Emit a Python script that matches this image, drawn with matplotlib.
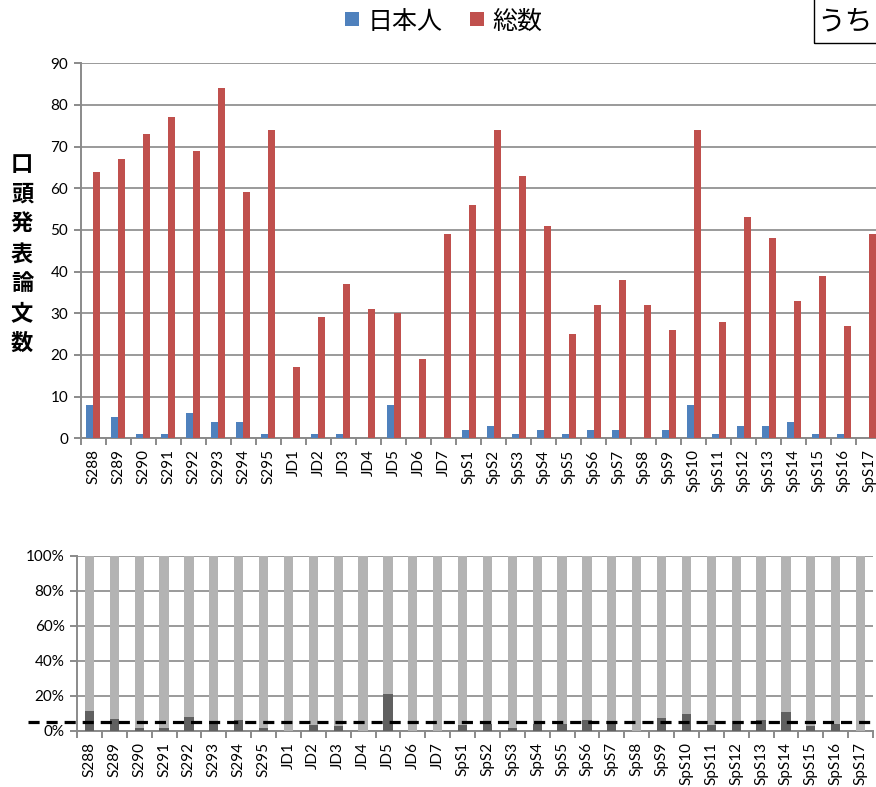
import matplotlib
matplotlib.use("Agg")
import matplotlib.pyplot as plt
import numpy as np
from matplotlib.patches import Rectangle

plt.rcParams['font.family'] = ['Lato', 'Noto Sans CJK JP', 'DejaVu Sans']

categories = ["S288", "S289", "S290", "S291", "S292", "S293", "S294", "S295",
              "JD1", "JD2", "JD3", "JD4", "JD5", "JD6", "JD7",
              "SpS1", "SpS2", "SpS3", "SpS4", "SpS5", "SpS6", "SpS7", "SpS8", "SpS9",
              "SpS10", "SpS11", "SpS12", "SpS13", "SpS14", "SpS15", "SpS16", "SpS17"]
japanese = [8, 5, 1, 1, 6, 4, 4, 1,
            0, 1, 1, 0, 8, 0, 0,
            2, 3, 1, 2, 1, 2, 2, 0, 2,
            8, 1, 3, 3, 4, 1, 1, 0]
total = [64, 67, 73, 77, 69, 84, 59, 74,
         17, 29, 37, 31, 30, 19, 49,
         56, 74, 63, 51, 25, 32, 38, 32, 26,
         74, 28, 53, 48, 33, 39, 27, 49]
legend_labels = ["日本人", "総数"]
ylabel = "口頭発表論文数"
box_text = "うち"

W, H = 876, 787
fig = plt.figure(figsize=(W / 100, H / 100), dpi=100)

BLUE = "#4F81BD"
RED = "#C0504D"
GRID = "#9A9A9A"
LIGHT = "#B3B3B3"
DARK = "#606060"

jp = np.array(japanese, dtype=float)
tot = np.array(total, dtype=float)
x = np.arange(len(categories))
n = len(categories)

def px(l, b, r, t):
    return [l / W, 1 - b / H, (r - l) / W, (b - t) / H]

# ---------- Top chart ----------
ax1 = fig.add_axes(px(80.7, 438.3, 881.5, 63.3))
bw = 0.28
ax1.bar(x - bw / 2, jp, width=bw, color=BLUE, zorder=3, label=legend_labels[0])
ax1.bar(x + bw / 2, tot, width=bw, color=RED, zorder=3, label=legend_labels[1])
ax1.set_xlim(-0.5, n - 0.5)
ax1.set_ylim(0, 90)
ax1.set_yticks(np.arange(0, 91, 10))
ax1.yaxis.grid(True, color=GRID, lw=1.4, zorder=0)
for s in ["top", "right"]:
    ax1.spines[s].set_visible(False)
for s in ["left", "bottom"]:
    ax1.spines[s].set_color("#8a8a8a")
    ax1.spines[s].set_linewidth(1.4)
ax1.set_xticks(x)
ax1.set_xticklabels(categories, rotation=90, fontsize=11)
ax1.set_xticks(np.arange(-0.5, n, 1), minor=True)
ax1.tick_params(axis="x", which="major", length=0, pad=8)
ax1.tick_params(axis="x", which="minor", length=5, color="#8a8a8a", width=1.4)
ax1.tick_params(axis="y", length=5, color="#8a8a8a", width=1.4, labelsize=11, pad=4)

# y label: vertical stacked characters
fig.text(22 / W, 1 - 254 / H, "\n".join(ylabel), ha="center", va="center",
         fontsize=16, fontweight="bold", family=["Noto Sans CJK JP"],
         linespacing=1.38)

# legend
leg = fig.legend(handles=ax1.containers, labels=legend_labels, loc="center",
                 bbox_to_anchor=(444 / W, 1 - 22 / H), ncol=2, frameon=False,
                 prop={"family": "Noto Sans CJK JP", "size": 18},
                 handlelength=0.55, handleheight=0.55, handletextpad=0.35,
                 columnspacing=1.1)
for h in leg.legend_handles:
    h.set_height(h.get_width())
    h.set_y(h.get_y() + 1.5)

# "うち" box (partially cut at right and top)
fig.patches.append(Rectangle((814 / W, 1 - 43 / H), 100 / W, 60 / H,
                             transform=fig.transFigure, fill=False,
                             edgecolor="black", lw=1.0))
fig.text(817 / W, 1 - 21 / H, box_text, ha="left", va="center",
         fontsize=20, family=["Noto Sans CJK JP"])

# ---------- Bottom chart ----------
ax2 = fig.add_axes(px(77, 730.7, 873, 555.7))
sumv = jp + tot
share_jp = jp / sumv * 100
share_rest = tot / sumv * 100
bw2 = 0.37
ax2.bar(x, share_jp, width=bw2, color=DARK, zorder=3)
ax2.bar(x, share_rest, bottom=share_jp, width=bw2, color=LIGHT, zorder=3)
ax2.set_xlim(-0.5, n - 0.5)
ax2.set_ylim(0, 100)
ax2.set_yticks(np.arange(0, 101, 20))
ax2.set_yticklabels([f"{v}%" for v in range(0, 101, 20)])
ax2.yaxis.grid(True, color=GRID, lw=1.4, zorder=0)
for s in ["top", "right"]:
    ax2.spines[s].set_visible(False)
for s in ["left", "bottom"]:
    ax2.spines[s].set_color("#8a8a8a")
    ax2.spines[s].set_linewidth(1.4)
ax2.set_xticks(x)
ax2.set_xticklabels(categories, rotation=90, fontsize=11)
ax2.set_xticks(np.arange(-0.5, n, 1), minor=True)
ax2.tick_params(axis="x", which="major", length=0, pad=8)
ax2.tick_params(axis="x", which="minor", length=5, color="#8a8a8a", width=1.4)
ax2.tick_params(axis="y", length=5, color="#8a8a8a", width=1.4, labelsize=11, pad=4)

overall = jp.sum() / sumv.sum() * 100
plt.rcParams['lines.scale_dashes'] = False
ln, = ax2.plot([-2.45, n - 0.5], [overall, overall], color="black", lw=2.3,
               zorder=5, clip_on=False)
ln.set_dashes((8, 5))

fig.savefig("out.png", dpi=100)
